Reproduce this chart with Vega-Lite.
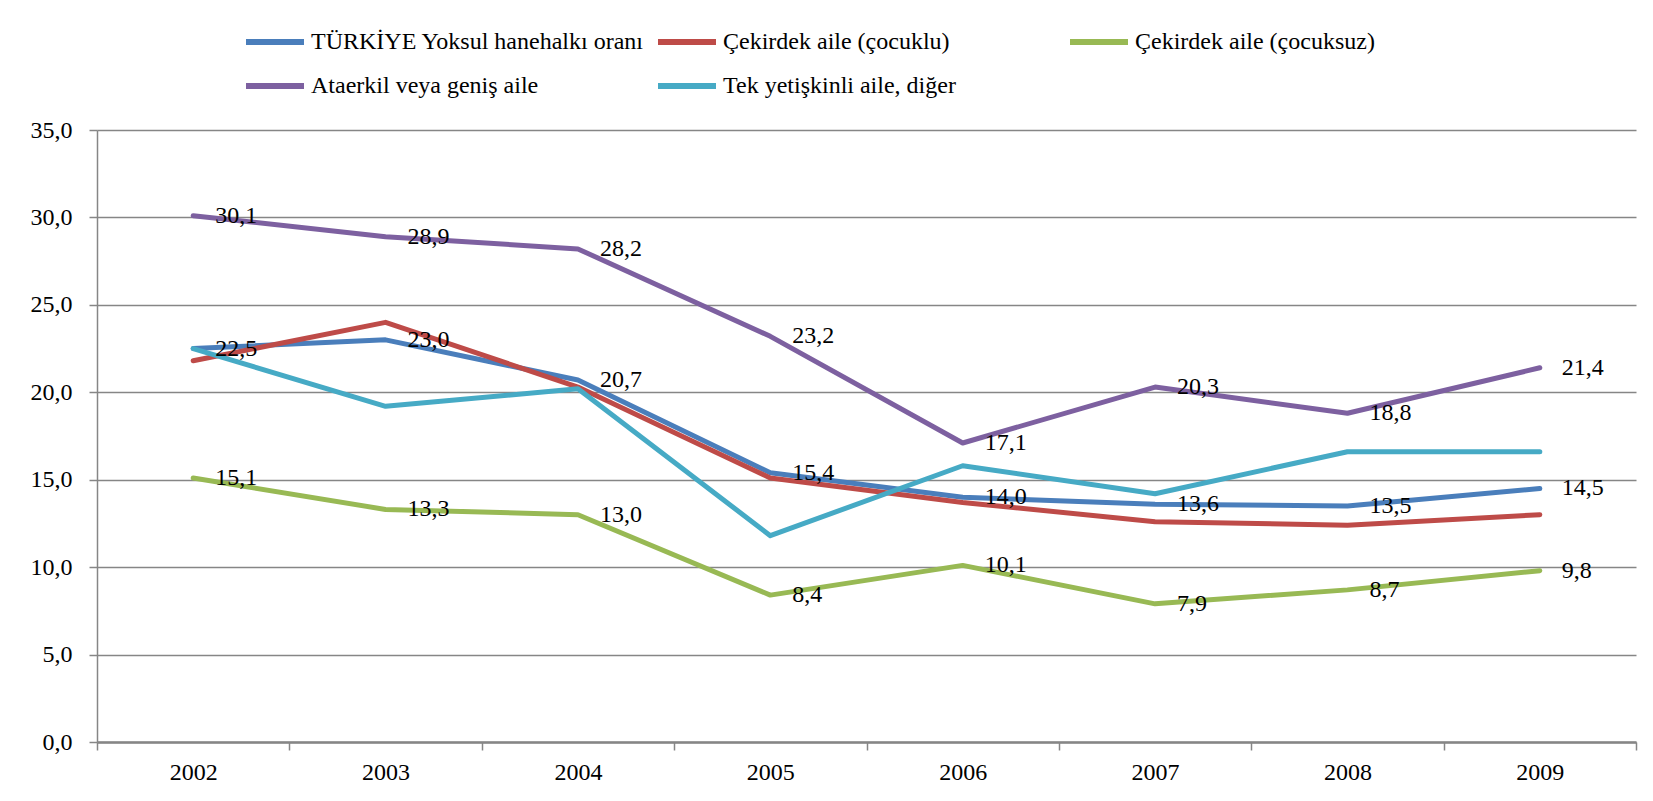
{
  "$schema": "https://vega.github.io/schema/vega-lite/v6.json",
  "width": 1539,
  "height": 612,
  "autosize": {"type": "none"},
  "padding": {"left": 97, "top": 130, "right": 17, "bottom": 59},
  "background": "white",
  "config": {
    "locale": {"number": {"decimal": ",", "thousands": ".", "grouping": [3], "currency": ["", " TL"]}},
    "view": {"stroke": null}
  },
  "data": {
    "values": [
      {"yil": "2002", "seri": "TÜRKİYE Yoksul hanehalkı oranı", "deger": 22.5},
      {"yil": "2003", "seri": "TÜRKİYE Yoksul hanehalkı oranı", "deger": 23.0},
      {"yil": "2004", "seri": "TÜRKİYE Yoksul hanehalkı oranı", "deger": 20.7},
      {"yil": "2005", "seri": "TÜRKİYE Yoksul hanehalkı oranı", "deger": 15.4},
      {"yil": "2006", "seri": "TÜRKİYE Yoksul hanehalkı oranı", "deger": 14.0},
      {"yil": "2007", "seri": "TÜRKİYE Yoksul hanehalkı oranı", "deger": 13.6},
      {"yil": "2008", "seri": "TÜRKİYE Yoksul hanehalkı oranı", "deger": 13.5},
      {"yil": "2009", "seri": "TÜRKİYE Yoksul hanehalkı oranı", "deger": 14.5},
      {"yil": "2002", "seri": "Çekirdek aile (çocuklu)", "deger": 21.8},
      {"yil": "2003", "seri": "Çekirdek aile (çocuklu)", "deger": 24.0},
      {"yil": "2004", "seri": "Çekirdek aile (çocuklu)", "deger": 20.3},
      {"yil": "2005", "seri": "Çekirdek aile (çocuklu)", "deger": 15.1},
      {"yil": "2006", "seri": "Çekirdek aile (çocuklu)", "deger": 13.7},
      {"yil": "2007", "seri": "Çekirdek aile (çocuklu)", "deger": 12.6},
      {"yil": "2008", "seri": "Çekirdek aile (çocuklu)", "deger": 12.4},
      {"yil": "2009", "seri": "Çekirdek aile (çocuklu)", "deger": 13.0},
      {"yil": "2002", "seri": "Çekirdek aile (çocuksuz)", "deger": 15.1},
      {"yil": "2003", "seri": "Çekirdek aile (çocuksuz)", "deger": 13.3},
      {"yil": "2004", "seri": "Çekirdek aile (çocuksuz)", "deger": 13.0},
      {"yil": "2005", "seri": "Çekirdek aile (çocuksuz)", "deger": 8.4},
      {"yil": "2006", "seri": "Çekirdek aile (çocuksuz)", "deger": 10.1},
      {"yil": "2007", "seri": "Çekirdek aile (çocuksuz)", "deger": 7.9},
      {"yil": "2008", "seri": "Çekirdek aile (çocuksuz)", "deger": 8.7},
      {"yil": "2009", "seri": "Çekirdek aile (çocuksuz)", "deger": 9.8},
      {"yil": "2002", "seri": "Ataerkil veya geniş aile", "deger": 30.1},
      {"yil": "2003", "seri": "Ataerkil veya geniş aile", "deger": 28.9},
      {"yil": "2004", "seri": "Ataerkil veya geniş aile", "deger": 28.2},
      {"yil": "2005", "seri": "Ataerkil veya geniş aile", "deger": 23.2},
      {"yil": "2006", "seri": "Ataerkil veya geniş aile", "deger": 17.1},
      {"yil": "2007", "seri": "Ataerkil veya geniş aile", "deger": 20.3},
      {"yil": "2008", "seri": "Ataerkil veya geniş aile", "deger": 18.8},
      {"yil": "2009", "seri": "Ataerkil veya geniş aile", "deger": 21.4},
      {"yil": "2002", "seri": "Tek yetişkinli aile, diğer", "deger": 22.5},
      {"yil": "2003", "seri": "Tek yetişkinli aile, diğer", "deger": 19.2},
      {"yil": "2004", "seri": "Tek yetişkinli aile, diğer", "deger": 20.2},
      {"yil": "2005", "seri": "Tek yetişkinli aile, diğer", "deger": 11.8},
      {"yil": "2006", "seri": "Tek yetişkinli aile, diğer", "deger": 15.8},
      {"yil": "2007", "seri": "Tek yetişkinli aile, diğer", "deger": 14.2},
      {"yil": "2008", "seri": "Tek yetişkinli aile, diğer", "deger": 16.6},
      {"yil": "2009", "seri": "Tek yetişkinli aile, diğer", "deger": 16.6}
    ]
  },
  "layer": [
    {
      "mark": {"type": "line", "strokeWidth": 5, "strokeCap": "round", "strokeJoin": "round"},
      "encoding": {
        "x": {
          "field": "yil", "type": "ordinal", "bandPosition": 0.5,
          "scale": {"type": "band", "paddingInner": 0, "paddingOuter": 0},
          "axis": {
            "title": null, "labelAngle": 0, "tickBand": "extent",
            "labelFont": "Liberation Serif", "labelFontSize": 24, "labelColor": "black",
            "labelPadding": 10, "tickSize": 8, "tickColor": "#868686", "tickWidth": 1.5,
            "domainColor": "#868686", "domainWidth": 2.5, "grid": false
          }
        },
        "y": {
          "field": "deger", "type": "quantitative",
          "scale": {"domain": [0, 35], "nice": false},
          "axis": {
            "title": null, "values": [0, 5, 10, 15, 20, 25, 30, 35], "format": ".1f",
            "labelFont": "Liberation Serif", "labelFontSize": 24, "labelColor": "black",
            "labelPadding": 17, "tickSize": 8, "tickColor": "#868686", "tickWidth": 1.5,
            "domainColor": "#868686", "domainWidth": 1.5,
            "grid": true, "gridColor": "#868686", "gridWidth": 1.5
          }
        },
        "color": {
          "field": "seri", "type": "nominal", "sort": null,
          "scale": {
            "domain": ["TÜRKİYE Yoksul hanehalkı oranı", "Çekirdek aile (çocuklu)", "Çekirdek aile (çocuksuz)", "Ataerkil veya geniş aile", "Tek yetişkinli aile, diğer"],
            "range": ["#4A7EBB", "#BE4B48", "#98B954", "#7D60A0", "#46AAC5"]
          },
          "legend": {
            "orient": "none", "legendX": 146, "legendY": -120, "columns": 3, "direction": "horizontal",
            "title": null, "symbolType": "stroke", "symbolSize": 3364, "symbolStrokeWidth": 6,
            "labelFont": "Liberation Serif", "labelFontSize": 24, "labelColor": "black", "labelLimit": 600,
            "gridAlign": "all", "labelOffset": 4, "columnPadding": 2, "rowPadding": -6
          }
        }
      }
    },
    {
      "transform": [{"filter": {"field": "seri", "oneOf": ["TÜRKİYE Yoksul hanehalkı oranı", "Çekirdek aile (çocuksuz)", "Ataerkil veya geniş aile"]}}],
      "mark": {"type": "text", "align": "left", "baseline": "middle", "dx": 22, "font": "Liberation Serif", "fontSize": 24, "color": "black"},
      "encoding": {
        "x": {"field": "yil", "type": "ordinal", "bandPosition": 0.5},
        "y": {"field": "deger", "type": "quantitative"},
        "text": {"field": "deger", "type": "quantitative", "format": ".1f"}
      }
    }
  ]
}
